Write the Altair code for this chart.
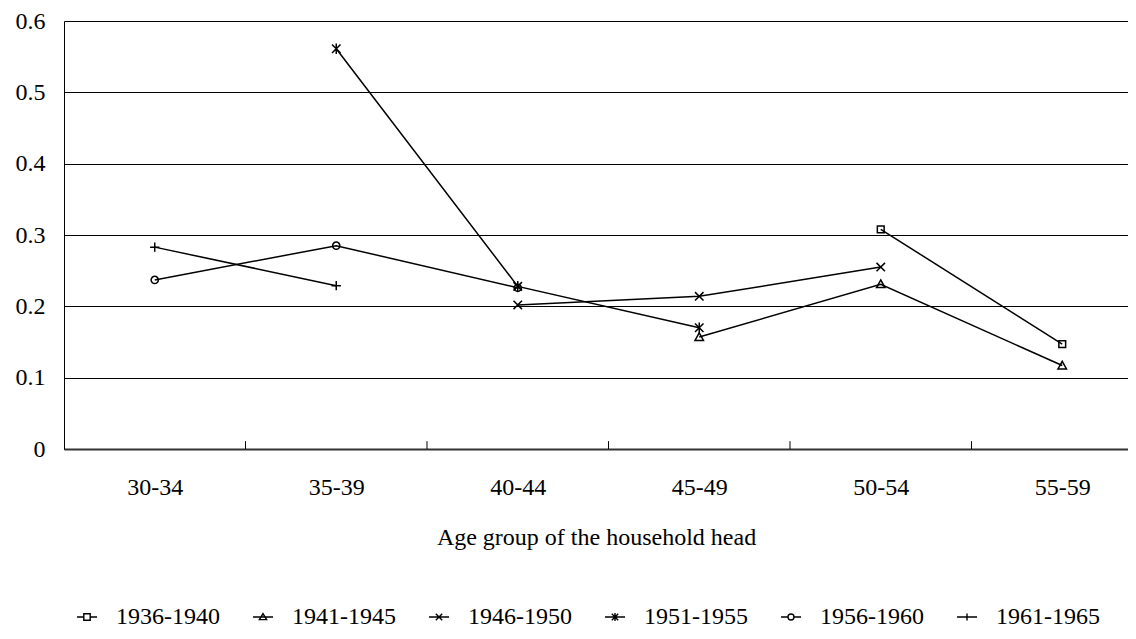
import altair as alt
import pandas as pd

# ---- data ----
categories = ["30-34", "35-39", "40-44", "45-49", "50-54", "55-59"]
cohorts = ["1936-1940", "1941-1945", "1946-1950", "1951-1955", "1956-1960", "1961-1965"]
v1936 = [None, None, None, None, 0.308, 0.147]
v1941 = [None, None, None, 0.157, 0.231, 0.117]
v1946 = [None, None, 0.202, 0.214, 0.255, None]
v1951 = [None, 0.561, 0.228, 0.170, None, None]
v1956 = [0.237, 0.285, 0.226, None, None, None]
v1961 = [0.283, 0.229, None, None, None, None]
y_ticks = [0, 0.1, 0.2, 0.3, 0.4, 0.5, 0.6]
boundaries = [0.5, 1.5, 2.5, 3.5, 4.5]

series = [v1936, v1941, v1946, v1951, v1956, v1961]
rows = []
for name, vals in zip(cohorts, series):
    for i, v in enumerate(vals):
        if v is not None:
            rows.append({"cohort": name, "xi": i, "age": categories[i], "value": v})
df = pd.DataFrame(rows)
bdf = pd.DataFrame({"xi": boundaries})

FONT = "Liberation Serif"
FS = 24

# marker shapes (plot) and legend symbols (line + marker)
plot_shapes = [
    "M-0.8,-0.8H0.8V0.8H-0.8Z",
    "M0,-1L1,0.8H-1Z",
    "M-1,-1L1,1M1,-1L-1,1",
    "M-1,-1L1,1M1,-1L-1,1M0,-1.25V1.25",
    "M-0.85,0A0.85,0.85,0,1,0,0.85,0A0.85,0.85,0,1,0,-0.85,0Z",
    "M-1.1,0H1.1M0,-1.1V1.1",
]
legend_shapes = [
    "M-1,0H-0.32M0.32,0H1M-0.32,-0.32H0.32V0.32H-0.32Z",
    "M-1,0H1M0,-0.34L0.36,0.26H-0.36Z",
    "M-1,0H1M-0.32,-0.32L0.32,0.32M0.32,-0.32L-0.32,0.32",
    "M-1,0H1M-0.32,-0.32L0.32,0.32M0.32,-0.32L-0.32,0.32M0,-0.4V0.4",
    "M-1,0H-0.3M0.3,0H1M-0.3,0A0.3,0.3,0,1,0,0.3,0A0.3,0.3,0,1,0,-0.3,0",
    "M-1,0H1M0,-0.36V0.36",
]

label_expr = "[" + ",".join("'" + c + "'" for c in categories) + "][datum.value]"

x_enc = alt.X(
    "xi:Q",
    scale=alt.Scale(domain=[-0.5, 5.3623], nice=False, zero=False),
    axis=alt.Axis(
        values=list(range(len(categories))),
        labelExpr=label_expr,
        ticks=False,
        tickSize=0,
        grid=False,
        title="Age group of the household head",
        labelPadding=26, titlePadding=26,
        domainColor="#333333", domainWidth=2,
        labelFlush=False,
    ),
)
y_enc = alt.Y(
    "value:Q",
    scale=alt.Scale(domain=[0, 0.6], nice=False),
    axis=alt.Axis(
        values=y_ticks,
        format=".1~f",
        title=None,
        grid=True, gridColor="black", gridWidth=1,
        ticks=False, tickSize=0,
        domainColor="black", domainWidth=1,
        labelPadding=19,
    ),
)

tick_rules = alt.Chart(bdf).mark_rule(color="black", strokeWidth=1).encode(
    x=x_enc, y=alt.datum(0), y2=alt.datum(0.011)
)

lines = alt.Chart(df).mark_line(color="black", strokeWidth=1.5).encode(
    x=x_enc, y=y_enc, detail="cohort:N", order="xi:Q"
)

points = alt.Chart(df).mark_point(
    filled=False, color="black", strokeWidth=1.5, size=72, opacity=1
).encode(
    x=x_enc, y=y_enc,
    shape=alt.Shape("cohort:N", scale=alt.Scale(domain=cohorts, range=plot_shapes), legend=None),
)

legend_layer = alt.Chart(df).mark_point(
    filled=False, color="black", opacity=0, size=64
).encode(
    x=x_enc, y=y_enc,
    shape=alt.Shape(
        "cohort:N",
        scale=alt.Scale(domain=cohorts, range=legend_shapes),
        legend=alt.Legend(
            title=None, orient="none", legendX=11, legendY=584,
            direction="horizontal", columns=6,
            symbolSize=400, symbolStrokeWidth=1.4, symbolStrokeColor="black",
            symbolOpacity=1, symbolFillColor="transparent",
            labelOffset=17, columnPadding=30, padding=0,
        ),
    ),
)

chart = (
    alt.layer(tick_rules, lines, points, legend_layer)
    .resolve_scale(shape="independent")
    .properties(
        width=1064, height=428,
        autosize=alt.AutoSizeParams(type="none"),
        padding={"left": 56, "top": 13, "right": 0, "bottom": 182},
        background="white",
    )
    .configure(font=FONT)
    .configure_view(stroke=None)
    .configure_axis(
        labelFont=FONT, labelFontSize=FS, labelColor="black",
        titleFont=FONT, titleFontSize=FS, titleFontWeight="normal", titleColor="black",
    )
    .configure_legend(
        labelFont=FONT, labelFontSize=FS, labelColor="black", labelLimit=0,
    )
)

chart.save("out.html", embed_options={"renderer": "svg", "actions": False})
